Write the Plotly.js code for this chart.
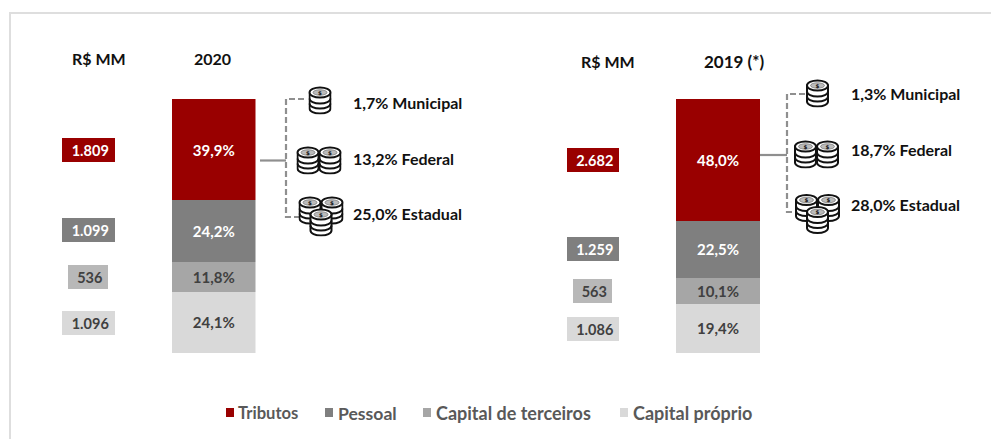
<!DOCTYPE html>
<html><head><meta charset="utf-8">
<script src="https://cdn.plot.ly/plotly-3.0.1.min.js"></script>
<style>html,body{margin:0;padding:0;background:#fff}</style></head>
<body><div id="chart" style="width:992px;height:440px"></div>
<script>
const seriesNames = ['Capital próprio','Capital de terceiros','Pessoal','Tributos'];
const seriesColors = ['#d9d9d9','#a6a6a6','#7f7f7f','#990000'];
const boxColors = ['#d9d9d9','#b8b8b8','#7f7f7f','#990000'];
const pct2020 = [24.1,11.8,24.2,39.9];
const pct2019 = [19.4,10.1,22.5,48.0];
const mm2020 = [1096,536,1099,1809];
const mm2019 = [1086,563,1259,2682];
const taxLabels2020 = ['1,7% Municipal','13,2% Federal','25,0% Estadual'];
const taxLabels2019 = ['1,3% Municipal','18,7% Federal','28,0% Estadual'];
const W=992,H=440, FONT='Lato, sans-serif';
const px=x=>x/W, py=y=>1-y/H;
const fmtPct=v=>v.toFixed(1).replace('.',',')+'%';
const fmtMM=v=>v>=1000?Math.floor(v/1000)+'.'+String(v%1000).padStart(3,'0'):String(v);
const txtCol=['#404040','#404040','#fff','#fff'];

function coin(cx,cy){
  const r=10.5;
  let s=`<path d="M${cx-r} ${cy+6}V${cy+22}a${r} 5 0 0 0 ${2*r} 0V${cy+6}Z" fill="#fff" stroke="#111" stroke-width="2"/>`;
  for(const dy of [12,17]) s+=`<path d="M${cx-r} ${cy+dy}a${r} 5 0 0 0 ${2*r} 0" fill="none" stroke="#111" stroke-width="2"/>`;
  s+=`<ellipse cx="${cx}" cy="${cy+6}" rx="${r}" ry="5" fill="#fff" stroke="#111" stroke-width="2"/>`;
  s+=`<ellipse cx="${cx}" cy="${cy+6}" rx="7" ry="2.8" fill="#bbb" stroke="#444" stroke-width=".5"/>`;
  s+=`<text x="${cx}" y="${cy+8}" font-size="5.5" font-weight="bold" text-anchor="middle" fill="#111" font-family="DejaVu Sans">$</text>`;
  return s;
}
function icon(positions,w,h){
  const svg=`<svg xmlns="http://www.w3.org/2000/svg" width="${w}" height="${h}" viewBox="0 0 ${w} ${h}">${positions.map(p=>coin(p[0],p[1])).join('')}</svg>`;
  return 'data:image/svg+xml;base64,'+btoa(svg);
}
const ICONS=[icon([[11.5,1]],23,29),icon([[11.5,1],[33.5,1]],45,29),icon([[11.5,1],[33.5,1],[22.5,13]],45,41)];
function img(src,x,y,w,h){return {source:src,xref:'paper',yref:'paper',x:px(x),y:py(y),sizex:w/W,sizey:h/H,xanchor:'left',yanchor:'top',sizing:'stretch',layer:'above'};}

const traces=[];
const tf=i=>({family:FONT,size:15,color:txtCol[i],weight:700});
seriesNames.forEach((n,i)=>{
  traces.push({type:'bar',x:['2020'],y:[pct2020[i]],name:n,marker:{color:seriesColors[i]},text:[fmtPct(pct2020[i])],
    textposition:'inside',insidetextanchor:'middle',constraintext:'none',textangle:0,textfont:tf(i),hoverinfo:'skip',showlegend:false,xaxis:'x',yaxis:'y'});
  traces.push({type:'bar',x:['2019'],y:[pct2019[i]],name:n,marker:{color:seriesColors[i]},text:[fmtPct(pct2019[i])],
    textposition:'inside',insidetextanchor:'middle',constraintext:'none',textangle:0,textfont:tf(i),hoverinfo:'skip',showlegend:false,xaxis:'x2',yaxis:'y2'});
});

const ann=[];
const t=(text,x,y,size,color,extra)=>ann.push(Object.assign({text:text,xref:'paper',yref:'paper',x:px(x),y:py(y),xanchor:'center',yanchor:'middle',showarrow:false,font:{family:FONT,size:size,color:color,weight:700}},extra||{}));
t('R$ MM',99,59,16,'#111');
t('2020',212,59,16,'#111');
t('R$ MM',608,61,16,'#111');
t('2019 (*)',733.5,61,17,'#111');
const boxes=(vals,x,ys,widths)=>vals.forEach((v,i)=>t('\u00a0'+fmtMM(v),x,ys[i],14.5,txtCol[i],{bgcolor:boxColors[i],width:widths[i],height:24,borderpad:0,borderwidth:0}));
boxes(mm2020,88,[322.5,276.5,230.5,150],[53,40,53,53]);
boxes(mm2019,592.5,[328.5,291,249,160],[52,39,52,52]);
taxLabels2020.forEach((s,i)=>t(s,350.5,[102,158,213][i],16,'#111',{xanchor:'left'}));
taxLabels2019.forEach((s,i)=>t(s,848.5,[93,149,204][i],16,'#111',{xanchor:'left'}));
// legend
const legend=[[3,226,236,16.6],[2,325,336,17.6],[1,423,434,18],[0,620,631,18]];
legend.forEach(l=>t(seriesNames[l[0]],l[2],413,l[3],'#595959',{xanchor:'left'}));

const rect=(x0,y0,x1,y1,c)=>({type:'rect',xref:'paper',yref:'paper',x0:px(x0),x1:px(x1),y0:py(y0),y1:py(y1),fillcolor:c,line:{width:0},layer:'above'});
const ln=(pts,dash)=>({type:'path',xref:'paper',yref:'paper',path:'M'+pts.map(p=>px(p[0])+','+py(p[1])).join('L'),line:{color:'#8f8f8f',width:2.2,dash:dash},layer:'below'});
const shapes=[
  {type:'path',xref:'paper',yref:'paper',path:`M${px(991)},${py(13)}L${px(10)},${py(13)}L${px(10)},${py(439)}`,line:{color:'#dedede',width:2}},
  ln([[260,160.5],[286,160.5]],'solid'),
  ln([[304,99],[286,99],[286,217],[301,217]],'6px,3px'),
  ln([[760,155],[787,155]],'solid'),
  ln([[805,94],[787,94],[787,212],[797,212]],'6px,3px')
];
legend.forEach(l=>shapes.push(rect(l[1],408,l[1]+8,417,seriesColors[l[0]])));
const images=[
  img(ICONS[0],308.5,85.5,23,29),img(ICONS[1],296.5,145.5,45,29),img(ICONS[2],298.5,195.5,45,41),
  img(ICONS[0],806,78.5,23,29),img(ICONS[1],794,139.5,45,29),img(ICONS[2],795,193,45,41)
];
const dom=(a,b)=>[a/W,b/W];
const xa=(a,b)=>({domain:dom(a,b),visible:false,fixedrange:true});
const ya=()=>({domain:[py(353),py(99)],range:[0,100],visible:false,fixedrange:true});
Plotly.newPlot('chart',traces,{
  width:W,height:H,margin:{l:0,r:0,t:0,b:0},paper_bgcolor:'#fff',plot_bgcolor:'rgba(0,0,0,0)',
  barmode:'stack',bargap:0,showlegend:false,
  xaxis:xa(172,255.5),xaxis2:xa(676,760),yaxis:ya(),yaxis2:ya(),
  annotations:ann,shapes:shapes,images:images
},{staticPlot:true,displayModeBar:false});
</script></body></html>
